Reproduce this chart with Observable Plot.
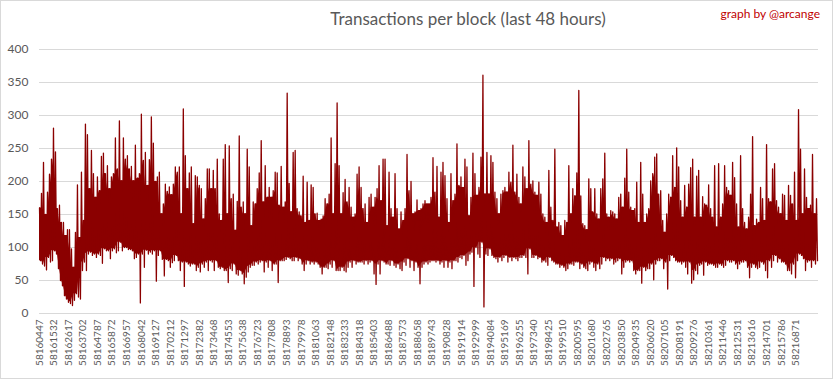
<!DOCTYPE html>
<html><head><meta charset="utf-8">
<script src="https://cdn.jsdelivr.net/npm/d3@7"></script>
<script src="https://cdn.jsdelivr.net/npm/@observablehq/plot@0.6"></script>
<style>
html,body{margin:0;padding:0;background:#fff;}
#wrap{position:relative;width:833px;height:379px;overflow:hidden;font-family:Lato,sans-serif;}
#frame{position:absolute;left:0;top:0;width:833px;height:379px;box-sizing:border-box;border:1px solid #d9d9d9;pointer-events:none;}
#title{position:absolute;left:0;width:936px;top:8px;text-align:center;font-size:17px;color:#595959;white-space:nowrap;}
#credit{position:absolute;right:13px;top:6px;font-size:12px;color:#c00000;white-space:nowrap;}
#chart{position:absolute;left:0;top:0;}
</style></head>
<body>
<div id="wrap">
  <div id="chart"></div>
  <div id="title">Transactions per block (last 48 hours)</div>
  <div id="credit">graph by @arcange</div>
  <div id="frame"></div>
</div>
<script>
const firstBlock = 58160447;
const sampleStep = 149;
const yTicks = [0, 50, 100, 150, 200, 250, 300, 350, 400];
const xTickBlocks = [58160447,58161532,58162617,58163702,58164787,58165872,58166957,58168042,58169127,58170212,58171297,58172382,58173468,58174553,58175638,58176723,58177808,58178893,58179978,58181063,58182148,58183233,58184318,58185403,58186488,58187573,58188658,58189743,58190828,58191914,58192999,58194084,58195169,58196255,58197340,58198425,58199510,58200595,58201680,58202765,58203850,58204935,58206020,58207105,58208191,58209276,58210361,58211446,58212531,58213616,58214701,58215786,58216871];

const hiVals = [
160,182,229,150,184,211,234,281,245,159,164,138,138,118,127,127,98,70,123,195,115,214,141,287,271,189,247,212,176,207,186,238,243,212,224,189,207,212,266,219,292,201,266,234,239,219,223,201,255,205,212,302,232,244,194,233,298,258,200,207,214,151,166,196,185,192,180,196,222,214,222,
151,310,239,189,213,222,136,209,207,194,189,143,174,219,219,189,217,189,234,151,141,234,256,151,254,174,181,126,170,269,161,169,151,249,222,133,169,166,189,213,262,169,224,176,191,176,186,214,213,164,223,161,169,334,197,154,244,247,159,154,148,208,138,199,141,
195,191,151,152,141,143,148,174,166,181,266,151,227,319,224,151,183,203,169,191,161,146,151,211,222,191,159,166,138,176,181,161,176,189,224,171,234,234,133,214,159,146,212,159,128,154,141,159,241,186,200,151,154,172,156,159,166,171,166,166,176,236,184,223,146,
214,229,209,174,138,212,171,181,257,194,207,191,234,222,148,176,243,212,179,191,237,361,181,244,181,239,229,184,174,151,181,186,191,184,214,199,255,184,211,176,166,222,207,189,262,196,201,184,179,199,181,151,146,138,217,161,141,249,131,138,133,118,141,138,224,
151,189,178,213,338,178,136,133,127,204,189,154,189,151,143,189,204,243,151,146,156,154,151,143,176,181,161,205,249,184,161,156,159,199,138,229,181,138,151,159,201,212,237,242,181,186,141,123,151,181,176,239,191,251,222,171,146,194,161,196,221,234,146,208,217,
146,177,166,164,195,159,146,224,131,227,146,166,224,191,186,179,229,206,166,131,239,159,138,128,146,181,268,133,143,138,191,174,141,256,174,169,219,227,171,161,151,181,179,141,194,179,166,214,141,309,249,151,219,176,159,164,241,151,174
];
const loVals = [
80,75,72,66,85,78,80,95,90,68,50,42,27,22,17,15,12,20,30,25,22,65,78,65,90,93,88,90,85,90,88,76,98,95,95,83,95,98,92,95,108,95,100,100,97,97,95,83,85,90,16,90,70,96,90,93,90,95,49,88,95,82,57,82,80,70,77,80,88,80,65,
78,41,78,75,72,75,75,65,70,63,75,70,78,65,80,78,65,80,70,68,70,65,65,47,68,65,75,60,58,65,60,45,55,63,70,73,73,78,75,78,80,63,78,70,80,65,75,75,47,80,80,80,82,85,83,80,80,85,80,83,75,65,75,80,75,
78,75,78,75,70,60,70,70,68,75,70,80,65,65,65,70,65,63,70,78,70,80,75,78,78,78,75,80,75,78,80,60,44,75,60,80,78,75,75,73,80,73,70,75,68,65,78,73,83,70,80,65,78,70,45,70,75,78,75,78,80,80,78,80,75,
78,70,80,70,78,68,80,80,78,85,83,88,73,80,90,93,41,100,90,85,108,10,90,88,98,88,85,83,78,85,80,85,88,78,85,80,85,83,80,85,85,88,85,60,98,85,85,88,83,85,78,80,78,73,85,80,78,75,75,70,73,70,65,68,75,
75,73,78,78,68,75,70,68,65,75,78,70,65,75,68,75,85,80,83,80,83,75,78,80,83,60,70,78,80,78,80,65,60,65,65,46,70,65,68,68,75,51,75,80,80,83,68,78,37,80,88,85,80,78,78,75,78,70,60,78,46,51,65,60,73,
75,58,78,73,75,75,73,70,70,75,73,70,73,80,78,78,80,75,68,75,78,78,80,70,54,70,75,70,68,70,78,75,65,54,80,70,80,88,78,83,78,78,75,65,65,60,75,54,80,90,88,83,65,78,80,70,80,75,80
];

// Zigzag series: each sample's peak then trough (one block apart in sampling order)
const rows = [];
hiVals.forEach((h, i) => {
  rows.push({block: firstBlock + i * sampleStep, tx: h});
  rows.push({block: firstBlock + i * sampleStep + Math.round(sampleStep / 2), tx: loVals[i]});
});
// Solid core of the trace: where neighbouring samples all overlap
const core = hiVals.map((h, i) => {
  const a = Math.max(0, i - 1), b = Math.min(hiVals.length - 1, i + 1);
  return {
    block: firstBlock + i * sampleStep,
    top: Math.min(hiVals[a], h, hiVals[b]),
    bottom: Math.max(loVals[a], loVals[i], loVals[b])
  };
});

const chart = Plot.plot({
  width: 833,
  height: 379,
  marginLeft: 39,
  marginRight: 15,
  marginTop: 49,
  marginBottom: 66,
  style: {fontFamily: "Lato, sans-serif", background: "transparent"},
  x: {type: "linear", domain: [firstBlock, firstBlock + hiVals.length * sampleStep]},
  y: {domain: [0, 400]},
  marks: [
    Plot.gridY(yTicks, {stroke: "#d9d9d9", strokeOpacity: 1}),
    Plot.axisY(yTicks, {tickSize: 0, tickPadding: 11, fontSize: 12, fill: "#595959", label: null}),
    Plot.axisX(xTickBlocks, {tickSize: 0, tickRotate: -90, tickPadding: 6, fontSize: 10, fill: "#595959", tickFormat: d => String(d), label: null}),
    Plot.areaY(core, {x: "block", y1: "bottom", y2: "top", fill: "#8b0000", curve: "linear"}),
    Plot.line(rows, {x: "block", y: "tx", stroke: "#8b0000", strokeWidth: 1.3})
  ]
});
document.getElementById("chart").appendChild(chart);
</script>
</body></html>
